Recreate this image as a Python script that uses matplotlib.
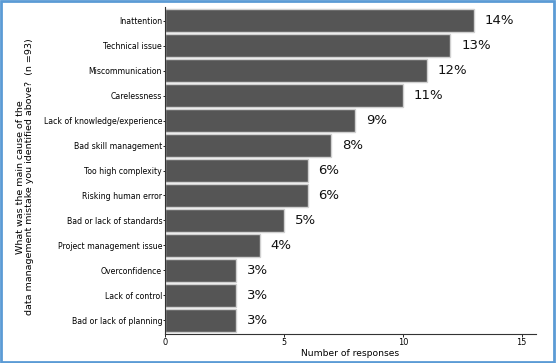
import matplotlib
matplotlib.use('Agg')
import matplotlib.pyplot as plt
from matplotlib.patches import Rectangle

# 数据
causes = [
    'Inattention', 'Technical issue', 'Miscommunication', 'Carelessness',
    'Lack of knowledge/experience', 'Bad skill management', 'Too high complexity',
    'Risking human error', 'Bad or lack of standards', 'Project management issue',
    'Overconfidence', 'Lack of control', 'Bad or lack of planning',
]
counts = [13, 12, 11, 10, 8, 7, 6, 6, 5, 4, 3, 3, 3]
pct_labels = ['14%', '13%', '12%', '11%', '9%', '8%', '6%', '6%', '5%', '4%', '3%', '3%', '3%']
n_total = 93

fig = plt.figure(figsize=(5.56, 3.63), dpi=100)
ax = fig.add_axes([165 / 556, 1 - 334 / 363, (536 - 165) / 556, (334 - 7) / 363])

y = list(range(len(causes)))
ax.barh(y, counts, height=0.9, color='#555555', edgecolor='#d0d0d0', linewidth=1)
ax.set_yticks(y)
ax.set_yticklabels(causes, fontsize=5.6)
ax.set_ylim(len(causes) - 0.45, -0.55)
ax.set_xlim(0, 15.6)
ax.set_xticks([0, 5, 10, 15])
ax.tick_params(axis='x', labelsize=5.9, length=2, width=0.6, pad=1)
ax.tick_params(axis='y', length=1.5, width=0.6, pad=0.5)

for yi, v, lab in zip(y, counts, pct_labels):
    ax.text(v + 0.45, yi, lab, va='center', ha='left', fontsize=9.5, color='#111111')

ax.spines['top'].set_visible(False)
ax.spines['right'].set_visible(False)
for s in ('left', 'bottom'):
    ax.spines[s].set_linewidth(0.8)
    ax.spines[s].set_color('#333333')

ax.set_xlabel('Number of responses', fontsize=6.6, labelpad=1)
ax.set_ylabel('What was the main cause of the\n'
              f'data management mistake you identified above?  (n ={n_total})',
              fontsize=6.8, linespacing=1.1)
ax.yaxis.set_label_coords(-0.352, 0.48)

# 外框
fig.patches.append(Rectangle((0.002, 0.003), 0.995, 0.994, transform=fig.transFigure,
                             fill=False, edgecolor='#5b9bd5', linewidth=2))

plt.savefig('out.png', dpi=100)
plt.close()
